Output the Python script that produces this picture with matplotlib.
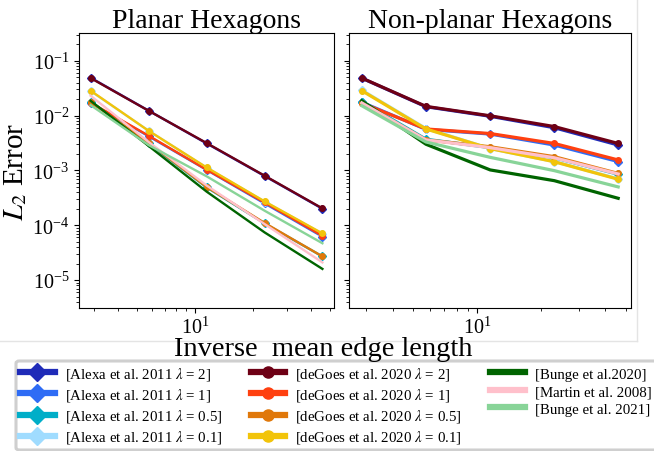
import numpy as np
import matplotlib.pyplot as plt
from matplotlib.lines import Line2D
from matplotlib.patches import FancyBboxPatch
from matplotlib.ticker import NullFormatter

plt.rcParams['font.family'] = ['Liberation Serif', 'DejaVu Serif']
plt.rcParams['mathtext.fontset'] = 'stix'

# inverse mean edge length (same meshes for both panels)
x_vals = [2.87, 5.74, 11.5, 23.0, 45.9]

# Planar hexagons
alexa_2_p = [0.049, 0.0123, 0.0031, 0.00079, 0.0002]
alexa_1_p = [0.017, 0.0042, 0.00102, 0.00025, 6.2e-5]
alexa_05_p = [0.018, 0.0031, 0.00049, 0.000108, 2.7e-5]
alexa_01_p = [0.028, 0.0053, 0.00112, 0.00027, 7.0e-5]
degoes_2_p = [0.0483, 0.01225, 0.00315, 0.0008, 0.000203]
degoes_1_p = [0.0172, 0.0043, 0.00103, 0.00026, 6.4e-5]
degoes_05_p = [0.0176, 0.0032, 0.0005, 0.00011, 2.7e-5]
degoes_01_p = [0.0284, 0.00528, 0.00113, 0.000272, 7.1e-5]
bunge20_p = [0.0186, 0.0028, 0.00041, 7.4e-5, 1.6e-5]
martin_p = [0.023, 0.0033, 0.00053, 0.000105, 2.1e-5]
bunge21_p = [0.0155, 0.0029, 0.00078, 0.000184, 4.7e-5]

# Non-planar hexagons
alexa_2_n = [0.048, 0.0145, 0.0097, 0.006, 0.0029]
alexa_1_n = [0.0175, 0.0056, 0.0046, 0.0029, 0.00145]
alexa_05_n = [0.018, 0.0037, 0.0026, 0.0017, 0.00085]
alexa_01_n = [0.029, 0.0058, 0.0025, 0.00145, 0.0007]
degoes_2_n = [0.0483, 0.0147, 0.0099, 0.0063, 0.0031]
degoes_1_n = [0.0169, 0.0057, 0.0047, 0.0031, 0.00155]
degoes_05_n = [0.0169, 0.0036, 0.0027, 0.00178, 0.00088]
degoes_01_n = [0.0284, 0.0057, 0.0025, 0.00144, 0.00069]
bunge20_n = [0.0186, 0.003, 0.00102, 0.00065, 0.00031]
martin_n = [0.017, 0.0036, 0.0026, 0.0017, 0.00086]
bunge21_n = [0.0151, 0.0033, 0.00173, 0.00099, 0.0005]

labels = [r'[Alexa et al. 2011 $\lambda$ = 2]', r'[Alexa et al. 2011 $\lambda$ = 1]',
          r'[Alexa et al. 2011 $\lambda$ = 0.5]', r'[Alexa et al. 2011 $\lambda$ = 0.1]',
          r'[deGoes et al. 2020 $\lambda$ = 2]', r'[deGoes et al. 2020 $\lambda$ = 1]',
          r'[deGoes et al. 2020 $\lambda$ = 0.5]', r'[deGoes et al. 2020 $\lambda$ = 0.1]',
          '[Bunge et al.2020]', '[Martin et al. 2008]', '[Bunge et al. 2021]']
colors = ['#1f2bb8', '#2f6cf5', '#00aec8', '#a0dcff',
          '#6e0015', '#ff4010', '#e0780a', '#f2c40a',
          '#006400', '#ffc0cb', '#88d498']
markers = ['D'] * 4 + ['o'] * 4 + [None] * 3

planar = [alexa_2_p, alexa_1_p, alexa_05_p, alexa_01_p,
          degoes_2_p, degoes_1_p, degoes_05_p, degoes_01_p,
          bunge20_p, martin_p, bunge21_p]
nonplanar = [alexa_2_n, alexa_1_n, alexa_05_n, alexa_01_n,
             degoes_2_n, degoes_1_n, degoes_05_n, degoes_01_n,
             bunge20_n, martin_n, bunge21_n]

W, H = 654, 452
fig = plt.figure(figsize=(W / 100, H / 100), dpi=100)


def box(x0, y0, x1, y1):
    return [x0 / W, 1 - y1 / H, (x1 - x0) / W, (y1 - y0) / H]


ax1 = fig.add_axes(box(79, 34, 334, 309))
ax2 = fig.add_axes(box(349, 34, 631, 309), sharey=ax1)

for ax, series, lw in [(ax1, planar, 1.7), (ax2, nonplanar, 2.3)]:
    for ys, c, m in zip(series, colors, markers):
        ax.plot(x_vals, ys, color=c, marker=m, markersize=4, lw=lw)
    ax.set_xscale('log')
    ax.set_yscale('log')
    ax.xaxis.set_minor_formatter(NullFormatter())
    ax.tick_params(labelsize=14.5)
    ax.tick_params(axis='x', pad=2.5)

ax1.set_ylim(3.1e-6, 0.32)
plt.setp(ax2.get_yticklabels(), visible=False)

ax1.set_title('Planar Hexagons', fontsize=20, pad=4)
ax2.set_title('Non-planar Hexagons', fontsize=20, pad=4)
ax1.set_ylabel(r'$L_2$ Error', fontsize=21, labelpad=2)
fig.text(323 / W, 1 - 356 / H, 'Inverse  mean edge length', ha='center', va='baseline', fontsize=20.5)

# faint border of the plot area
fig.add_artist(Line2D([0, 637 / W], [1 - 342 / H, 1 - 342 / H], transform=fig.transFigure, color='#e4e4e4', lw=1, zorder=-1))
fig.add_artist(Line2D([637 / W, 637 / W], [1 - 342 / H, 1], transform=fig.transFigure, color='#e4e4e4', lw=1, zorder=-1))

# legend frame (runs off the right edge)
fig.add_artist(FancyBboxPatch((16 / W, 1 - 451 / H), 660 / W, 89 / H, boxstyle='round,pad=0,rounding_size=0.005',
                              transform=fig.transFigure, facecolor='none', edgecolor='#cfcfcf', lw=2.2))

handles = [Line2D([], [], color=c, marker=m, markersize=9 if m == 'D' else 8, lw=4.5) for c, m in zip(colors, markers)]
fig.legend(handles, labels, ncol=3, loc='upper left', bbox_to_anchor=(20 / W, 1 - 366 / H),
           frameon=False, fontsize=10.7, borderpad=0, borderaxespad=0, handlelength=2.35, handletextpad=0.67,
           columnspacing=1.9, labelspacing=0.28)

fig.savefig('out.png', dpi=100)
